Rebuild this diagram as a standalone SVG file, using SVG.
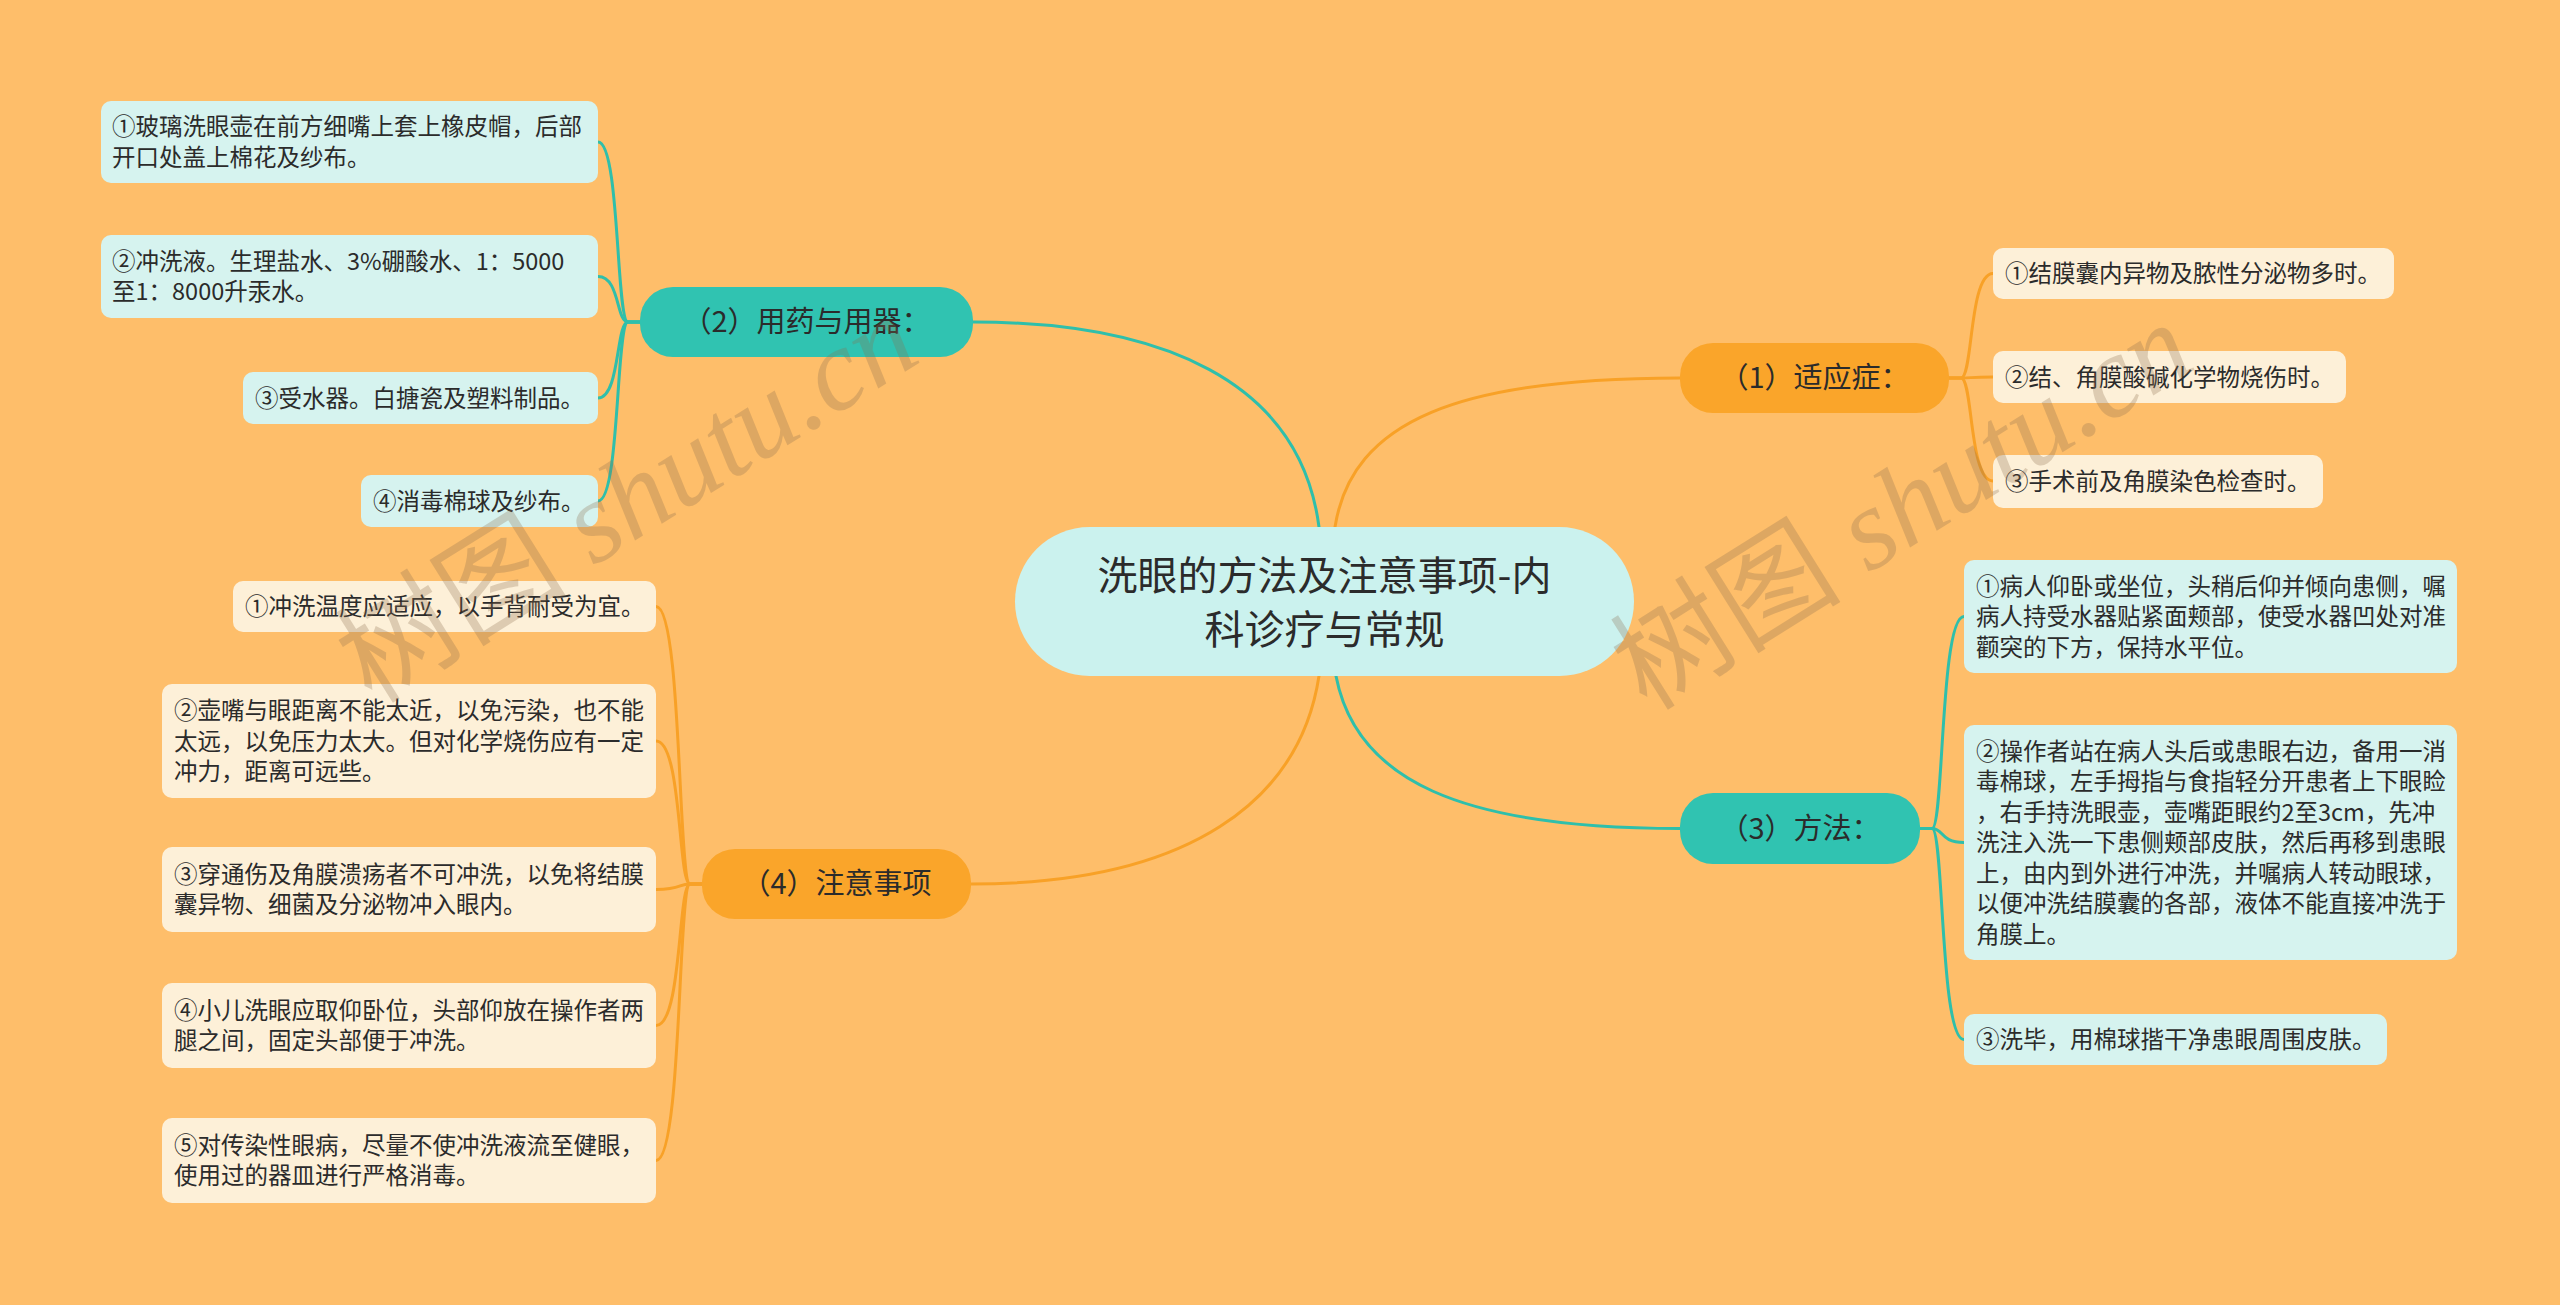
<svg xmlns="http://www.w3.org/2000/svg" width="2560" height="1305" viewBox="0 0 2560 1305">
<style>
.t{font-family:"Noto Sans CJK SC","Noto Sans",sans-serif;fill:#2b2b2b}
.leaf{font-size:23.5px}
.br{font-size:29px;text-anchor:middle}
.ttl{font-size:40px;text-anchor:middle}
.cy{fill:#D6F3EF}
.cr{fill:#FDF0D8}
.tl{fill:#30C3B1}
.og{fill:#FAA52A}
.ct{fill:none;stroke-width:3;stroke-linecap:round}
.lt{stroke:#2FBFAB}
.lo{stroke:#F8A127}
.wm{font-family:"Liberation Serif","Noto Sans CJK SC",serif;font-size:116px;fill:#8C6E4E;opacity:0.28}
</style>
<rect width="2560" height="1305" fill="#FEBE6A"/>
<g id="connectors">
<path class="ct lt" d="M973,322 C1160,322 1300,380 1319,527"/>
<path class="ct lo" d="M1335,527 C1352,420 1460,378 1680,378"/>
<path class="ct lt" d="M1336,676 C1356,780 1460,828.5 1680,828.5"/>
<path class="ct lo" d="M1319,676 C1300,800 1190,884 971,884"/>
<path class="ct lt" d="M640,322 H628 C616,322 620,142 598,142"/>
<path class="ct lt" d="M640,322 H628 C616,322 620,276.5 598,276.5"/>
<path class="ct lt" d="M640,322 H628 C616,322 620,398 598,398"/>
<path class="ct lt" d="M640,322 H628 C616,322 620,501 598,501"/>
<path class="ct lo" d="M1949,378 H1961 C1973,378 1969,273.5 1993,273.5"/>
<path class="ct lo" d="M1949,378 H1961 C1973,378 1969,377 1993,377"/>
<path class="ct lo" d="M1949,378 H1961 C1973,378 1969,481 1993,481"/>
<path class="ct lt" d="M1920,828.5 H1932 C1944,828.5 1940,616.5 1964,616.5"/>
<path class="ct lt" d="M1920,828.5 H1932 C1944,828.5 1940,842.5 1964,842.5"/>
<path class="ct lt" d="M1920,828.5 H1932 C1944,828.5 1940,1039.5 1964,1039.5"/>
<path class="ct lo" d="M702,884 H690 C678,884 682,606.5 656,606.5"/>
<path class="ct lo" d="M702,884 H690 C678,884 682,741 656,741"/>
<path class="ct lo" d="M702,884 H690 C678,884 682,889.5 656,889.5"/>
<path class="ct lo" d="M702,884 H690 C678,884 682,1025.5 656,1025.5"/>
<path class="ct lo" d="M702,884 H690 C678,884 682,1160.5 656,1160.5"/>
</g>
<g id="center">
<rect x="1015" y="527" width="619" height="149" rx="74.5" fill="#CBF2EE"/>
<text class="t ttl" x="1324.5" y="590">洗眼的方法及注意事项-内</text>
<text class="t ttl" x="1324.5" y="644">科诊疗与常规</text>
</g>
<g id="b1"><rect class="og" x="1680" y="343" width="269" height="70" rx="33"/><text class="t br" x="1814.5" y="388">（1）适应症：</text></g>
<g id="b2"><rect class="tl" x="640" y="287" width="333" height="70" rx="33"/><text class="t br" x="806.5" y="332">（2）用药与用器：</text></g>
<g id="b3"><rect class="tl" x="1680" y="793" width="240" height="71" rx="33"/><text class="t br" x="1800" y="838.5">（3）方法：</text></g>
<g id="b4"><rect class="og" x="702" y="849" width="269" height="70" rx="33"/><text class="t br" x="836.5" y="894">（4）注意事项</text></g>
<g id="n2-1"><rect class="cy" x="101" y="101" width="497" height="82" rx="10"/><text class="t leaf" x="112"><tspan x="112" y="135.25">①玻璃洗眼壶在前方细嘴上套上橡皮帽，后部</tspan><tspan x="112" y="165.75">开口处盖上棉花及纱布。</tspan></text></g>
<g id="n2-2"><rect class="cy" x="101" y="235" width="497" height="83" rx="10"/><text class="t leaf"><tspan x="112" y="269.75">②冲洗液。生理盐水、3%硼酸水、1：5000</tspan><tspan x="112" y="300.25">至1：8000升汞水。</tspan></text></g>
<g id="n2-3"><rect class="cy" x="243" y="372" width="355" height="52" rx="10"/><text class="t leaf" x="255" y="406.5">③受水器。白搪瓷及塑料制品。</text></g>
<g id="n2-4"><rect class="cy" x="361" y="475" width="237" height="52" rx="10"/><text class="t leaf" x="373" y="509.5">④消毒棉球及纱布。</text></g>
<g id="n1-1"><rect class="cr" x="1993" y="248" width="401" height="51" rx="10"/><text class="t leaf" x="2005" y="282">①结膜囊内异物及脓性分泌物多时。</text></g>
<g id="n1-2"><rect class="cr" x="1993" y="351" width="353" height="52" rx="10"/><text class="t leaf" x="2005" y="385.5">②结、角膜酸碱化学物烧伤时。</text></g>
<g id="n1-3"><rect class="cr" x="1993" y="455" width="330" height="53" rx="10"/><text class="t leaf" x="2005" y="489.5">③手术前及角膜染色检查时。</text></g>
<g id="n3-1"><rect class="cy" x="1964" y="560" width="493" height="113" rx="10"/><text class="t leaf"><tspan x="1976" y="594.5">①病人仰卧或坐位，头稍后仰并倾向患侧，嘱</tspan><tspan x="1976" y="625">病人持受水器贴紧面颊部，使受水器凹处对准</tspan><tspan x="1976" y="655.5">颧突的下方，保持水平位。</tspan></text></g>
<g id="n3-2"><rect class="cy" x="1964" y="725" width="493" height="235" rx="10"/><text class="t leaf"><tspan x="1976" y="759.5">②操作者站在病人头后或患眼右边，备用一消</tspan><tspan x="1976" y="790">毒棉球，左手拇指与食指轻分开患者上下眼睑</tspan><tspan x="1976" y="820.5">，右手持洗眼壶，壶嘴距眼约2至3cm，先冲</tspan><tspan x="1976" y="851">洗注入洗一下患侧颊部皮肤，然后再移到患眼</tspan><tspan x="1976" y="881.5">上，由内到外进行冲洗，并嘱病人转动眼球，</tspan><tspan x="1976" y="912">以便冲洗结膜囊的各部，液体不能直接冲洗于</tspan><tspan x="1976" y="942.5">角膜上。</tspan></text></g>
<g id="n3-3"><rect class="cy" x="1964" y="1014" width="423" height="51" rx="10"/><text class="t leaf" x="1976" y="1048">③洗毕，用棉球揩干净患眼周围皮肤。</text></g>
<g id="n4-1"><rect class="cr" x="233" y="581" width="423" height="51" rx="10"/><text class="t leaf" x="245" y="615">①冲洗温度应适应，以手背耐受为宜。</text></g>
<g id="n4-2"><rect class="cr" x="162" y="684" width="494" height="114" rx="10"/><text class="t leaf"><tspan x="174" y="719">②壶嘴与眼距离不能太近，以免污染，也不能</tspan><tspan x="174" y="749.5">太远，以免压力太大。但对化学烧伤应有一定</tspan><tspan x="174" y="780">冲力，距离可远些。</tspan></text></g>
<g id="n4-3"><rect class="cr" x="162" y="847" width="494" height="85" rx="10"/><text class="t leaf"><tspan x="174" y="882.75">③穿通伤及角膜溃疡者不可冲洗，以免将结膜</tspan><tspan x="174" y="913.25">囊异物、细菌及分泌物冲入眼内。</tspan></text></g>
<g id="n4-4"><rect class="cr" x="162" y="983" width="494" height="85" rx="10"/><text class="t leaf"><tspan x="174" y="1018.75">④小儿洗眼应取仰卧位，头部仰放在操作者两</tspan><tspan x="174" y="1049.25">腿之间，固定头部便于冲洗。</tspan></text></g>
<g id="n4-5"><rect class="cr" x="162" y="1118" width="494" height="85" rx="10"/><text class="t leaf"><tspan x="174" y="1153.75">⑤对传染性眼病，尽量不使冲洗液流至健眼，</tspan><tspan x="174" y="1184.25">使用过的器皿进行严格消毒。</tspan></text></g>
<g id="watermark">
<text class="wm" transform="translate(372,705) rotate(-32)">树图 <tspan font-style="italic">shutu.cn</tspan></text>
<text class="wm" transform="translate(1647,712) rotate(-32)">树图 <tspan font-style="italic">shutu.cn</tspan></text>
</g>
</svg>
